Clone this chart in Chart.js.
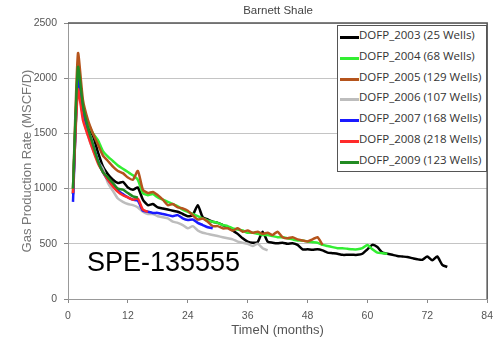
<!DOCTYPE html>
<html>
<head>
<meta charset="utf-8">
<script src="https://cdn.jsdelivr.net/npm/chart.js@4.4.1/dist/chart.umd.min.js"></script>
<style>
  html, body { margin: 0; padding: 0; background: #fff; }
  #wrap { position: relative; width: 500px; height: 340px; }
  #c { position: absolute; left: 0; top: 0; }
  #title { position: absolute; left: 68px; width: 420px; top: 4px; text-align: center;
    font: 11.5px "Liberation Sans", Arial, sans-serif; color: #444; }
  #legend { position: absolute; left: 337px; top: 25px; width: 150px; height: 147px;
    border: 1px solid #555; background: #fff; box-sizing: border-box; padding-top: 1px; }
  .item { position: relative; height: 20.8px; line-height: 20.8px; white-space: nowrap;
    font: 11.5px "Open Sans", sans-serif; color: #333; }
  .swatch { position: absolute; left: 2px; top: 9px; width: 19px; height: 3px; }
  .txt { position: absolute; left: 21px; top: 0; }
  #spe { position: absolute; left: 87px; top: 247px; font: 27px "Liberation Sans", Arial, sans-serif; color: #000; }
</style>
</head>
<body>
<div id="wrap">
  <canvas id="c" width="500" height="340"></canvas>
  <div id="title">Barnett Shale</div>
  <div id="legend"></div>
  <div id="spe">SPE-135555</div>
</div>
<script>
const chartTitle = "Barnett Shale";
const xTitle = "TimeN (months)";
const yTitle = "Gas Production Rate (MSCF/D)";
const seriesNames = ["DOFP_2003 (25 Wells)", "DOFP_2004 (68 Wells)", "DOFP_2005 (129 Wells)",
  "DOFP_2006 (107 Wells)", "DOFP_2007 (168 Wells)", "DOFP_2008 (218 Wells)", "DOFP_2009 (123 Wells)"];
const seriesColors = ["#000000", "#33ee33", "#b5541c", "#bdbdbd", "#1a1aff", "#ff2a2a", "#228b22"];

// monthly rates, month 1 .. n
const dofp2003 = [950,2050,1720,1560,1480,1330,1200,1130,1080,1050,1060,1010,990,1010,900,850,860,830,820,810,
  800,790,770,750,760,850,740,720,700,690,670,650,620,590,550,520,510,515,610,520,
  510,505,510,500,505,490,450,450,445,450,440,420,415,410,400,400,400,400,410,450,
  490,470,420,410,400,390,385,380,370,360,355,385,350,385,310,290];
const dofp2004 = [1000,1950,1720,1600,1500,1440,1340,1290,1250,1210,1180,1150,1120,1080,960,940,950,920,900,880,
  860,840,810,790,770,750,730,710,700,690,670,660,640,630,620,600,600,590,580,580,
  570,560,560,550,540,530,530,520,515,510,490,480,470,460,460,455,450,450,460,490,
  450,420,415,410];
const dofp2005 = [1000,2225,1800,1620,1500,1400,1300,1250,1200,1160,1140,1100,1080,1160,990,960,970,940,900,850,
  860,830,820,800,760,720,730,700,660,660,640,640,620,640,610,620,600,610,590,600,
  580,610,560,550,560,540,530,520,540,560,490];
const dofp2006 = [950,1950,1650,1480,1350,1250,1180,1050,980,910,880,860,850,830,790,770,770,750,740,730,
  700,690,670,640,660,620,600,590,580,570,560,550,540,520,510,500,480,500,460,440];
const dofp2007 = [880,2000,1700,1530,1400,1250,1150,1080,1030,980,950,920,900,890,800,790,780,780,770,760,
  750,760,730,715,720,690,670,650,640];
const dofp2008 = [960,1900,1620,1480,1350,1230,1150,1080,1020,970,940,920,900,910,810,790];
const dofp2009 = [1000,2100,1750,1550,1400,1250,1150,1100,1050,1000,990,960,930,920];
const allSeries = [dofp2003, dofp2004, dofp2005, dofp2006, dofp2007, dofp2008, dofp2009];
const xTicks = [0, 12, 24, 36, 48, 60, 72, 84];
const yTicks = [0, 500, 1000, 1500, 2000, 2500];

document.getElementById('title').textContent = chartTitle;

const datasets = allSeries.map((arr, k) => ({
  label: seriesNames[k],
  data: arr.map((v, i) => ({ x: i + 1, y: v })),
  borderColor: seriesColors[k],
  backgroundColor: seriesColors[k],
  borderWidth: 2.5,
  pointRadius: 0,
  tension: 0.2,
  fill: false,
  order: allSeries.length - 1 - k
}));

const frame = {
  id: 'frame',
  afterDatasetsDraw(chart) {
    const { ctx, chartArea: a } = chart;
    ctx.save();
    ctx.strokeStyle = '#555';
    ctx.lineWidth = 1.5;
    ctx.beginPath();
    ctx.moveTo(a.left, a.top);
    ctx.lineTo(a.right, a.top);
    ctx.lineTo(a.right, a.bottom);
    ctx.stroke();
    ctx.restore();
  }
};

new Chart(document.getElementById('c'), {
  type: 'line',
  data: { datasets },
  plugins: [frame],
  options: {
    responsive: false,
    animation: false,
    layout: { padding: { left: 0, right: 12, top: 23, bottom: 0 } },
    plugins: { legend: { display: false }, title: { display: false }, tooltip: { enabled: false } },
    scales: {
      x: {
        type: 'linear', min: 0, max: 84,
        afterFit: s => { s.height = 41; },
        afterBuildTicks: s => { s.ticks = xTicks.map(v => ({ value: v })); },
        grid: { drawOnChartArea: false, tickLength: 4, tickColor: '#888' },
        border: { color: '#999', width: 1 },
        ticks: { padding: 7, color: '#555', font: { family: 'Liberation Sans', size: 10.5 }, maxRotation: 0,
          callback: v => String(v) },
        title: { display: true, text: xTitle, color: '#555', font: { family: 'Liberation Sans', size: 13 }, padding: { top: 0, bottom: 2 } }
      },
      y: {
        min: 0, max: 2500,
        afterFit: s => { s.width = 68; },
        afterBuildTicks: s => { s.ticks = yTicks.map(v => ({ value: v })); },
        grid: { color: '#c4c4c4', lineWidth: 1, tickLength: 4, tickColor: '#888' },
        border: { color: '#999', width: 1 },
        ticks: { padding: 7, color: '#555', font: { family: 'Liberation Sans', size: 10.5 },
          callback: v => String(v) },
        title: { display: true, text: yTitle, color: '#777', font: { family: 'Liberation Sans', size: 13 }, padding: { top: 20, bottom: 0 } }
      }
    }
  }
});

const leg = document.getElementById('legend');
seriesNames.forEach((name, k) => {
  const row = document.createElement('div');
  row.className = 'item';
  const sw = document.createElement('span');
  sw.className = 'swatch';
  sw.style.background = seriesColors[k];
  const t = document.createElement('span');
  t.className = 'txt';
  t.textContent = name;
  row.appendChild(sw); row.appendChild(t);
  leg.appendChild(row);
});
</script>
</body>
</html>
